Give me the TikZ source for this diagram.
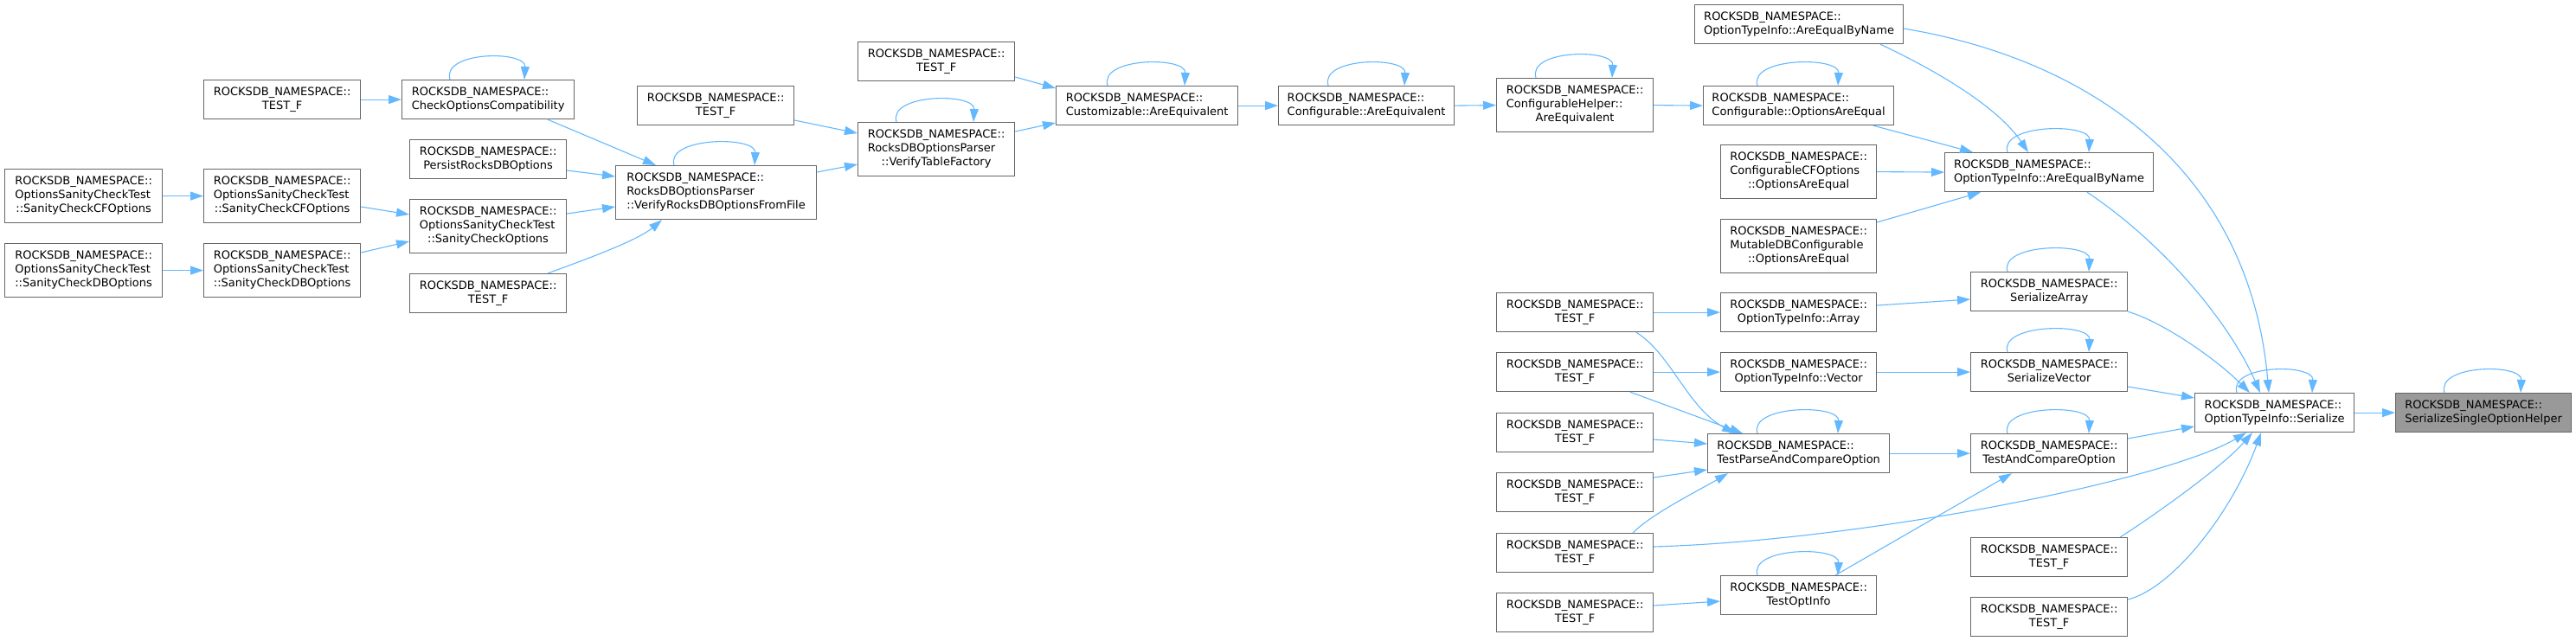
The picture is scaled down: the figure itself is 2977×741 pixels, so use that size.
\documentclass[tikz,border=0pt]{standalone}
\usepackage{fontspec}
\setmainfont{DejaVu Sans}
\usetikzlibrary{arrows.meta,calc}
\definecolor{edgeblue}{HTML}{63B8FF}
\definecolor{bordergray}{HTML}{666666}
\definecolor{maingray}{HTML}{999999}
\newcommand{\RNS}{ROCKSDB\_NAMESPACE::}
\newcommand{\twol}[2]{\begin{tabular}{@{}l@{}}#1\\\multicolumn{1}{@{}c@{}}{#2}\end{tabular}}
\newcommand{\threel}[3]{\begin{tabular}{@{}l@{}}#1\\#2\\\multicolumn{1}{@{}c@{}}{#3}\end{tabular}}
\begin{document}
\begin{tikzpicture}[x=1pt,y=-1pt,
  box/.style={draw=bordergray,line width=1.2pt,fill=white,inner sep=0pt,anchor=north west,font=\fontsize{13}{16}\selectfont},
  hb/.style={minimum height=45pt},
  hc/.style={minimum height=62pt},
  conn/.style={draw=edgeblue,line width=1.1pt,-{Triangle[length=15pt,width=10pt]}}]
\useasboundingbox (0,0) rectangle (2977,741);
% nodes
\node[box,hc,minimum width=182pt] (sccfc) at (5,195) {\threel{\RNS}{OptionsSanityCheckTest}{::SanityCheckCFOptions}};
\node[box,hc,minimum width=182pt] (scdbc) at (5,281) {\threel{\RNS}{OptionsSanityCheckTest}{::SanityCheckDBOptions}};
\node[box,hb,minimum width=181pt] (test1) at (235,92) {\twol{\RNS}{TEST\_F}};
\node[box,hc,minimum width=181pt] (sccf) at (235,195) {\threel{\RNS}{OptionsSanityCheckTest}{::SanityCheckCFOptions}};
\node[box,hc,minimum width=181pt] (scdb) at (235,281) {\threel{\RNS}{OptionsSanityCheckTest}{::SanityCheckDBOptions}};
\node[box,hb,minimum width=199pt] (checkcompat) at (464,92) {\twol{\RNS}{CheckOptionsCompatibility}};
\node[box,hb,minimum width=181pt] (persist) at (473,161) {\twol{\RNS}{PersistRocksDBOptions}};
\node[box,hc,minimum width=181pt] (scopt) at (473,230) {\threel{\RNS}{OptionsSanityCheckTest}{::SanityCheckOptions}};
\node[box,hb,minimum width=181pt] (test2) at (473,316) {\twol{\RNS}{TEST\_F}};
\node[box,hb,minimum width=181pt] (test3) at (736,99) {\twol{\RNS}{TEST\_F}};
\node[box,hc,minimum width=232pt] (verify) at (711,191) {\threel{\RNS}{RocksDBOptionsParser}{::VerifyRocksDBOptionsFromFile}};
\node[box,hb,minimum width=181pt] (test4) at (991,48) {\twol{\RNS}{TEST\_F}};
\node[box,hc,minimum width=181pt] (vtf) at (991,141) {\threel{\RNS}{RocksDBOptionsParser}{::VerifyTableFactory}};
\node[box,hb,minimum width=210pt] (cust) at (1220,99) {\twol{\RNS}{Customizable::AreEquivalent}};
\node[box,hb,minimum width=203pt] (confeq) at (1477,99) {\twol{\RNS}{Configurable::AreEquivalent}};
\node[box,hc,minimum width=181pt] (chelper) at (1729,90) {\threel{\RNS}{ConfigurableHelper::}{AreEquivalent}};
\node[box,hb,minimum width=220pt] (optsae) at (1968,99) {\twol{\RNS}{Configurable::OptionsAreEqual}};
\node[box,hb,minimum width=241pt] (aebntop) at (1958,5) {\twol{\RNS}{OptionTypeInfo::AreEqualByName}};
\node[box,hc,minimum width=180pt] (ccf) at (1988,167) {\threel{\RNS}{ConfigurableCFOptions}{::OptionsAreEqual}};
\node[box,hc,minimum width=180pt] (mdb) at (1988,253) {\threel{\RNS}{MutableDBConfigurable}{::OptionsAreEqual}};
\node[box,hb,minimum width=241pt] (aebn) at (2247,176) {\twol{\RNS}{OptionTypeInfo::AreEqualByName}};
\node[box,hb,minimum width=181pt] (serarr) at (2277,314) {\twol{\RNS}{SerializeArray}};
\node[box,hb,minimum width=181pt] (ta) at (1729,338) {\twol{\RNS}{TEST\_F}};
\node[box,hb,minimum width=180pt] (arr) at (1988,338) {\twol{\RNS}{OptionTypeInfo::Array}};
\node[box,hb,minimum width=181pt] (tv) at (1729,407) {\twol{\RNS}{TEST\_F}};
\node[box,hb,minimum width=180pt] (vec) at (1988,407) {\twol{\RNS}{OptionTypeInfo::Vector}};
\node[box,hb,minimum width=181pt] (servec) at (2277,407) {\twol{\RNS}{SerializeVector}};
\node[box,hb,minimum width=184pt] (ser) at (2536,454) {\twol{\RNS}{OptionTypeInfo::Serialize}};
\node[box,hb,minimum width=203pt,fill=maingray] (main) at (2768,454) {\twol{\RNS}{SerializeSingleOptionHelper}};
\node[box,hb,minimum width=181pt] (t5) at (1729,477) {\twol{\RNS}{TEST\_F}};
\node[box,hb,minimum width=210pt] (tpc) at (1973,501) {\twol{\RNS}{TestParseAndCompareOption}};
\node[box,hb,minimum width=181pt] (tac) at (2277,501) {\twol{\RNS}{TestAndCompareOption}};
\node[box,hb,minimum width=181pt] (t6) at (1729,546) {\twol{\RNS}{TEST\_F}};
\node[box,hb,minimum width=181pt] (t7) at (1729,616) {\twol{\RNS}{TEST\_F}};
\node[box,hb,minimum width=180pt] (toi) at (1988,665) {\twol{\RNS}{TestOptInfo}};
\node[box,hb,minimum width=181pt] (t8) at (1729,685) {\twol{\RNS}{TEST\_F}};
\node[box,hb,minimum width=181pt] (t9) at (2277,621) {\twol{\RNS}{TEST\_F}};
\node[box,hb,minimum width=181pt] (t10) at (2277,690) {\twol{\RNS}{TEST\_F}};
% edges
\draw[conn] (sccfc.east) -- (sccf.west);
\draw[conn] (scdbc.east) -- (scdb.west);
\draw[conn] (test1.east) -- (checkcompat.west);
\draw[conn] ($(checkcompat.south west)+(169,0)$) -- ($(verify.north west)+(47,0)$);
\draw[conn] ($(persist.north east)+(0,36)$) -- ($(verify.north west)+(0,13)$);
\draw[conn] ($(sccf.north east)+(0,44)$) -- ($(scopt.north west)+(0,18)$);
\draw[conn] ($(scdb.north east)+(0,11)$) -- ($(scopt.north west)+(0,49)$);
\draw[conn] ($(scopt.north east)+(0,17)$) -- ($(verify.north west)+(0,48)$);
\draw[conn] ($(test2.north west)+(160,0)$) .. controls +(35,-13) and +(-30,25) .. ($(verify.south west)+(54,0)$);
\draw[conn] ($(verify.north east)+(0,8)$) -- ($(vtf.north west)+(0,49)$);
\draw[conn] ($(test3.north east)+(0,40)$) -- ($(vtf.north west)+(0,13)$);
\draw[conn] ($(test4.north east)+(0,41)$) -- ($(cust.north west)+(0,3)$);
\draw[conn] ($(vtf.north east)+(0,11)$) -- ($(cust.north west)+(0,43)$);
\draw[conn] (cust.east) -- (confeq.west);
\draw[conn] (confeq.east) -- (chelper.west);
\draw[conn] (chelper.east) -- (optsae.west);
\draw[conn] ($(optsae.south west)+(197,0)$) -- ($(aebn.north west)+(33,0)$);
\draw[conn] (ccf.east) -- (aebn.west);
\draw[conn] ($(mdb.north east)+(0,4)$) -- ($(aebn.south west)+(42,0)$);
\draw[conn] ($(aebntop.south west)+(215,0)$) .. controls +(47,22) and +(-39,-58) .. ($(aebn.north west)+(97,0)$);
\draw[conn] ($(aebntop.north east)+(0,28)$) .. controls +(221,37) and +(-22,-254) .. ($(ser.north west)+(86,0)$);
\draw[conn] ($(aebn.south west)+(165,0)$) .. controls +(90,60) and +(-35,-80) .. ($(ser.north west)+(76,0)$);
\draw[conn] (serarr.south east) .. controls +(40,12) and +(-40,-40) .. ($(ser.north west)+(64,0)$);
\draw[conn] ($(arr.north east)+(0,15)$) -- ($(serarr.north west)+(0,32)$);
\draw[conn] (ta.east) -- (arr.west);
\draw[conn] ($(ta.south west)+(162,0)$) .. controls +(40,25) and +(-55,-30) .. ($(tpc.north west)+(32,0)$);
\draw[conn] (tv.east) -- (vec.west);
\draw[conn] (vec.east) -- (servec.west);
\draw[conn] ($(servec.north east)+(0,40)$) -- ($(ser.north west)+(0,6)$);
\draw[conn] ($(tv.south west)+(155,0)$) -- ($(tpc.north west)+(41,0)$);
\draw[conn] ($(t5.north east)+(0,31)$) -- ($(tpc.north west)+(0,12)$);
\draw[conn] ($(t6.north east)+(0,6)$) -- ($(tpc.north west)+(0,42)$);
\draw[conn] ($(t7.north west)+(158,0)$) .. controls +(22,-22) and +(-38,22) .. ($(tpc.south west)+(24,0)$);
\draw[conn] (tpc.east) -- (tac.west);
\draw[conn] ($(tac.north east)+(0,6)$) -- ($(ser.north west)+(0,39)$);
\draw[conn] ($(t7.north east)+(0,16)$) .. controls +(240,-7) and +(-96,56) .. ($(ser.south west)+(60,0)$);
\draw[conn] ($(toi.north west)+(133,0)$) -- ($(tac.south west)+(48,0)$);
\draw[conn] ($(t8.north east)+(0,15)$) -- ($(toi.north west)+(0,30)$);
\draw[conn] ($(t9.north west)+(173,0)$) .. controls +(35,-22) and +(-35,40) .. ($(ser.south west)+(67,0)$);
\draw[conn] ($(t10.north east)+(0,3)$) .. controls +(52,-13) and +(-33,91) .. ($(ser.south west)+(77,0)$);
\draw[conn] (ser.east) -- (main.west);
% self loops
\foreach \n/\a/\b in {checkcompat/56/142, verify/68/161, vtf/45/134, cust/60/149, confeq/58/146, chelper/46/134, optsae/63/156, aebn/73/167, serarr/43/137, servec/43/137, tpc/58/151, tac/43/137, toi/43/136, ser/49/136, main/57/145}
  \draw[conn] ($(\n.north west)+(\a,0)$) .. controls +(-10,-33) and +(2,-34) .. ($(\n.north west)+(\b,0)$);
\end{tikzpicture}
\end{document}
